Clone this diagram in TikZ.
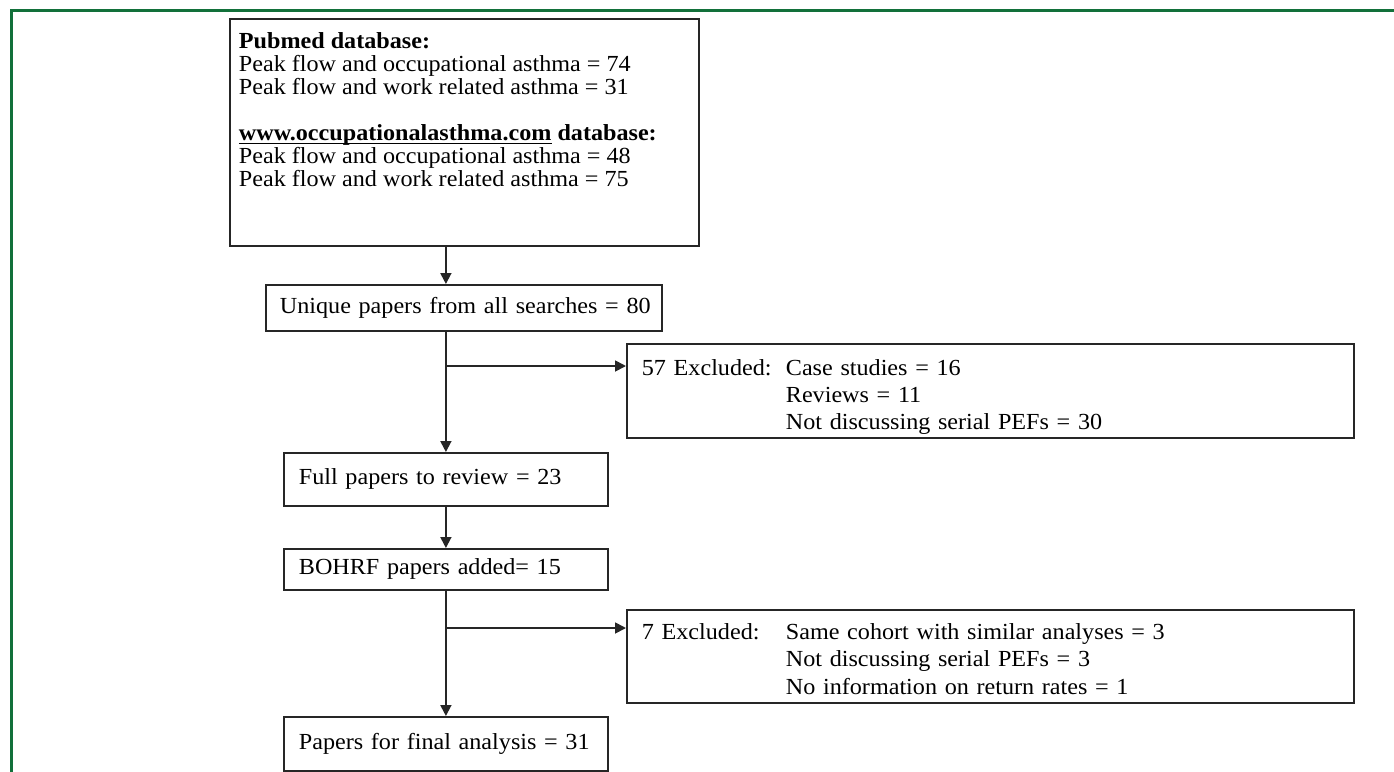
\documentclass[tikz,border=0pt]{standalone}
\usepackage{fontspec}
\setmainfont{Liberation Serif}[FakeStretch=1.05]
\usetikzlibrary{arrows.meta}

\definecolor{framegreen}{RGB}{18,112,58}

% underline sitting close to the baseline
\newcommand{\ulword}[1]{\setbox0\hbox{#1}\rlap{\rule[-1.8pt]{\wd0}{0.7pt}}\box0\relax}

\tikzset{
  flowbox/.style={draw=black!85, line width=0.9pt, anchor=north west,
    inner xsep=7.5pt, inner ysep=0pt, align=left,
    font=\fontsize{11.5}{11.5}\selectfont},
  exclbox/.style={flowbox, font=\fontsize{11.5}{13.7}\selectfont},
  flowline/.style={line width=0.9pt, draw=black!85, -{Triangle[length=5.5pt,width=5.5pt]}},
}

\begin{document}
\begin{tikzpicture}[x=0.5pt, y=-0.5pt]
\useasboundingbox (0,0) rectangle (1394,772);

% frame
\draw[line width=1.5pt, framegreen] (1394,10) -- (11,10) -- (11,772);

% search box
\node[flowbox, inner xsep=4.5pt, inner ysep=7pt] (search) at (229,18) {\parbox[t][99.5pt][t]{225.5pt}{%
  \textbf{Pubmed database:}\\
  Peak flow and occupational asthma = 74\\
  Peak flow and work related asthma = 31\\[11.5pt]
  \textbf{\ulword{www.occupationalasthma.com} database:}\\
  Peak flow and occupational asthma = 48\\
  Peak flow and work related asthma = 75}};

% main column
\node[flowbox, inner xsep=7pt, text width=184pt, minimum height=23pt] (unique) at (265,284)
  {\mbox{Unique papers from all searches = 80}};
\node[flowbox, text width=147pt, minimum height=26.5pt] (review) at (283,452)
  {Full papers to review = 23};
\node[flowbox, text width=147pt, minimum height=20.5pt] (bohrf) at (283,548)
  {BOHRF papers added= 15};
\node[flowbox, text width=147pt, minimum height=27pt] (final) at (283,716)
  {Papers for final analysis = 31};

% exclusions
\node[exclbox, text width=348.5pt, minimum height=47pt] (excla) at (626,343)
  {\begin{tabular}{@{}l@{}l@{}}
   \rule{0pt}{15.6pt}\makebox[72pt][l]{57 Excluded:} & Case studies = 16\\
                & Reviews = 11\\
                & Not discussing serial PEFs = 30
   \end{tabular}};
\node[exclbox, text width=348.5pt, minimum height=46.5pt] (exclb) at (626,609)
  {\begin{tabular}{@{}l@{}l@{}}
   \rule{0pt}{14.6pt}\makebox[72pt][l]{7 Excluded:} & Same cohort with similar analyses = 3\\
               & Not discussing serial PEFs = 3\\
               & No information on return rates = 1
   \end{tabular}};

\coordinate (splita) at (review.north |- 0,366);
\coordinate (splitb) at (review.north |- 0,628);

% arrows
\draw[flowline] (search.south -| review.north) -- (unique.north -| review.north);
\draw[flowline] (unique.south -| review.north) -- (review.north);
\draw[flowline] (splita) -- (splita -| excla.west);
\draw[flowline] (review.south) -- (bohrf.north);
\draw[flowline] (bohrf.south) -- (final.north);
\draw[flowline] (splitb) -- (splitb -| exclb.west);
\end{tikzpicture}
\end{document}
